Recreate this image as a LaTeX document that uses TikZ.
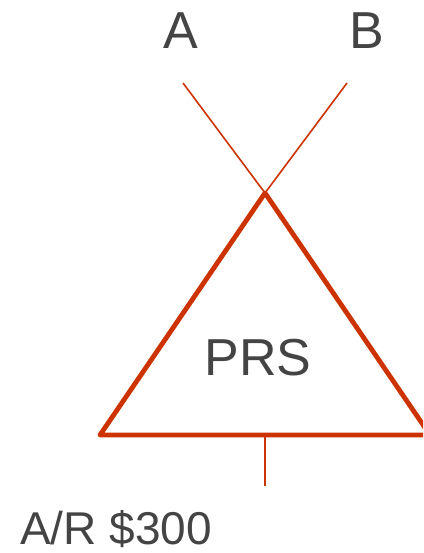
\documentclass[tikz,border=0pt]{standalone}
\usepackage{fontspec}
\setmainfont{Liberation Sans}
\usetikzlibrary{positioning}
\definecolor{prsred}{HTML}{CC3300}
\definecolor{labelgrey}{HTML}{444444}
\tikzset{
  lbl/.style={text=labelgrey,font=\fontsize{52}{60}\selectfont,inner sep=0pt},
  thinleg/.style={draw=prsred,line width=1.6pt},
  thickedge/.style={draw=prsred,line width=4.8pt,line join=round,line cap=round}
}
\begin{document}
\begin{tikzpicture}[x=1pt,y=-1pt]
  \useasboundingbox (0,0) rectangle (423,553);
  \clip (0,0) rectangle (423,553);
  % parent labels and the legs into the apex
  \node[lbl] (A) at (181,31) {A};
  \node[lbl] (B) at (367,31) {B};
  \coordinate (Aleg) at (183,83);
  \coordinate (Bleg) at (347,83);
  \coordinate (apex) at (265,193);
  \draw[thinleg] (Aleg) -- (apex);
  \draw[thinleg] (Bleg) -- (apex);
  % the triangle
  \coordinate (baseL) at (100,435);
  \coordinate (baseR) at (430,435);
  \draw[thickedge] (apex) -- (baseL) -- (baseR) -- cycle;
  \node[lbl] (prs) at (258,358) {PRS};
  % the tick below and its label
  \coordinate (baseM) at (265,437);
  \coordinate (tick) at (265,486);
  \draw[thinleg] (baseM) -- (tick);
  \node[lbl,font=\fontsize{46}{54}\selectfont,anchor=base] (ar) at (116,544) {A/R \$300};
\end{tikzpicture}
\end{document}
